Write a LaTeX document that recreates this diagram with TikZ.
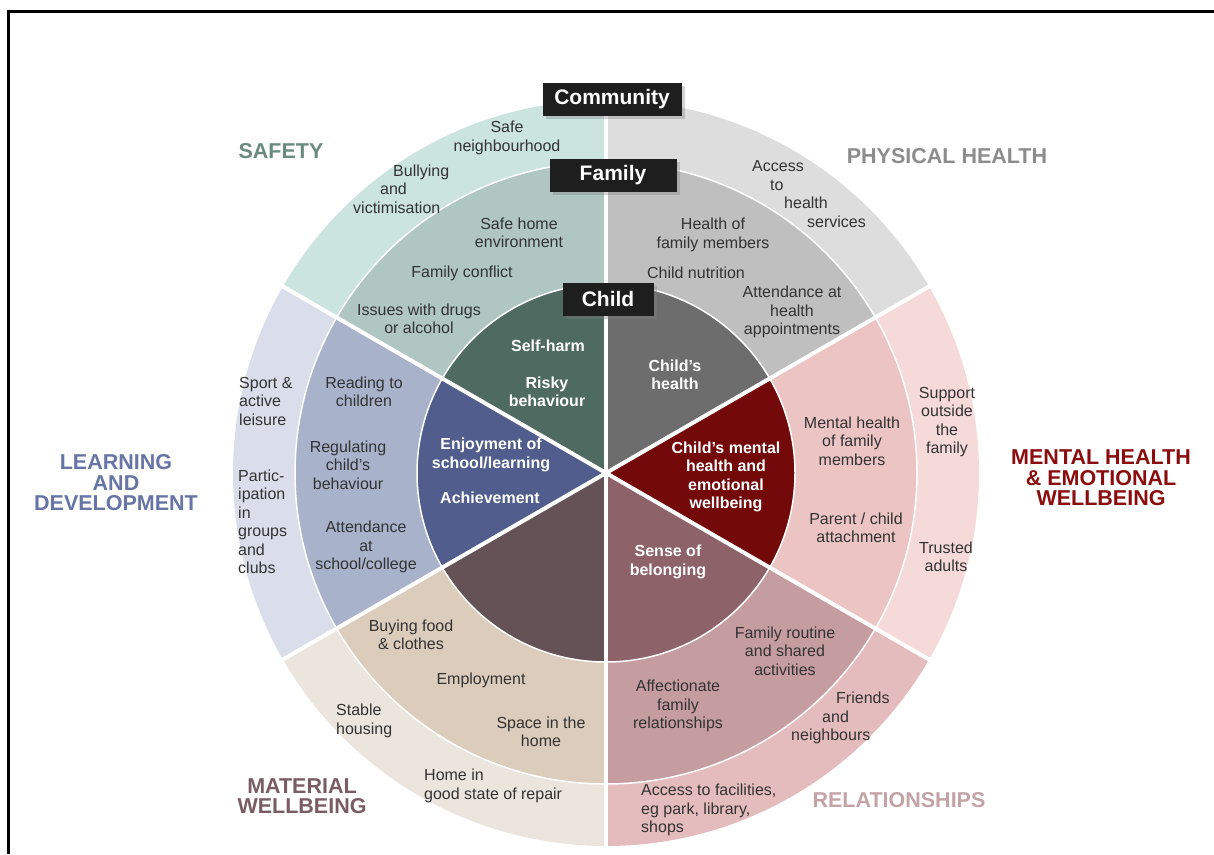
\documentclass[tikz,border=0pt]{standalone}
\usepackage{fontspec}
\setmainfont{Liberation Sans}
\usetikzlibrary{shadows}

\definecolor{txtgrey}{HTML}{333333}
\definecolor{lblblack}{HTML}{1E1E1E}
% community ring
\definecolor{safeO}{HTML}{CBE4DE}
\definecolor{physO}{HTML}{DDDDDD}
\definecolor{mentO}{HTML}{F6DADA}
\definecolor{relO}{HTML}{E5BCBD}
\definecolor{matO}{HTML}{ECE5DD}
\definecolor{learnO}{HTML}{D9DEEA}
% family ring
\definecolor{safeM}{HTML}{AFC6C1}
\definecolor{physM}{HTML}{BFBFBF}
\definecolor{mentM}{HTML}{ECC4C4}
\definecolor{relM}{HTML}{C59DA0}
\definecolor{matM}{HTML}{DBCCBC}
\definecolor{learnM}{HTML}{A8B2CA}
% child
\definecolor{safeI}{HTML}{4F6A61}
\definecolor{physI}{HTML}{6D6D6D}
\definecolor{mentI}{HTML}{730909}
\definecolor{relI}{HTML}{8D6268}
\definecolor{matI}{HTML}{645257}
\definecolor{learnI}{HTML}{505D8D}
% titles
\definecolor{safeT}{HTML}{6A8A80}
\definecolor{physT}{HTML}{8C8C8C}
\definecolor{mentT}{HTML}{8B0C0C}
\definecolor{relT}{HTML}{C4A3A6}
\definecolor{matT}{HTML}{7A5C64}
\definecolor{learnT}{HTML}{6674A6}

\begin{document}
\begin{tikzpicture}[x=1pt, y=1pt,
        txt/.style={font=\fontsize{16}{18.5}\selectfont, text=txtgrey, align=center, inner sep=0pt},
        childtxt/.style={font=\bfseries\fontsize{16}{18.5}\selectfont, text=white, align=center, inner sep=0pt},
        areatitle/.style={font=\bfseries\fontsize{21.5}{20.5}\selectfont, align=center, inner sep=0pt},
        ringlabel/.style={rectangle, fill=lblblack, text=white, font=\bfseries\fontsize{21}{21}\selectfont, minimum height=33pt, inner sep=0pt, drop shadow={opacity=0.35, shadow xshift=3pt, shadow yshift=-3pt}},
        spoke/.style={white, line width=4pt},
        ringline/.style={white, line width=1.5pt}
    ]
    \useasboundingbox (0,0) rectangle (1214,-854);
    \draw[line width=3pt] (8.5,-854) -- (8.5,-11.5) -- (1214,-11.5);

    % Wheel
    \begin{scope}[shift={(606,-473)}]
        \fill[safeO] (0,0) -- (90:373) arc (90:150:373) -- cycle;
        \fill[physO] (0,0) -- (30:373) arc (30:90:373) -- cycle;
        \fill[mentO] (0,0) -- (-30:373) arc (-30:30:373) -- cycle;
        \fill[relO] (0,0) -- (-90:373) arc (-90:-30:373) -- cycle;
        \fill[matO] (0,0) -- (-150:373) arc (-150:-90:373) -- cycle;
        \fill[learnO] (0,0) -- (150:373) arc (150:210:373) -- cycle;

        \fill[safeM] (0,0) -- (90:311) arc (90:150:311) -- cycle;
        \fill[physM] (0,0) -- (30:311) arc (30:90:311) -- cycle;
        \fill[mentM] (0,0) -- (-30:311) arc (-30:30:311) -- cycle;
        \fill[relM] (0,0) -- (-90:311) arc (-90:-30:311) -- cycle;
        \fill[matM] (0,0) -- (-150:311) arc (-150:-90:311) -- cycle;
        \fill[learnM] (0,0) -- (150:311) arc (150:210:311) -- cycle;

        \fill[safeI] (0,0) -- (90:189) arc (90:150:189) -- cycle;
        \fill[physI] (0,0) -- (30:189) arc (30:90:189) -- cycle;
        \fill[mentI] (0,0) -- (-30:189) arc (-30:30:189) -- cycle;
        \fill[relI] (0,0) -- (-90:189) arc (-90:-30:189) -- cycle;
        \fill[matI] (0,0) -- (-150:189) arc (-150:-90:189) -- cycle;
        \fill[learnI] (0,0) -- (150:189) arc (150:210:189) -- cycle;

        \draw[ringline] (0,0) circle (311);
        \draw[ringline] (0,0) circle (189);
        \draw[spoke] (0,0) -- (30:374);
        \draw[spoke] (0,0) -- (90:374);
        \draw[spoke] (0,0) -- (150:374);
        \draw[spoke] (0,0) -- (210:374);
        \draw[spoke] (0,0) -- (270:374);
        \draw[spoke] (0,0) -- (330:374);
    \end{scope}

    % Safety
    \node[txt] (safeNbh) at (507,-138) {Safe\\neighbourhood};
    \node[txt, align=left, anchor=west] (bullying) at (353,-189) {\hspace*{40pt}Bullying\\\hspace*{27pt}and\\victimisation};
    \node[txt] (safeHome) at (519,-233) {Safe home\\environment};
    \node[txt] (famConflict) at (462,-273) {Family conflict};
    \node[txt] (drugs) at (419,-319) {Issues with drugs\\or alcohol};
    \node[childtxt] (selfHarm) at (548,-346) {Self-harm};
    \node[childtxt] (risky) at (547,-392) {Risky\\behaviour};
    \node[areatitle, text=safeT] (safety) at (281,-151) {SAFETY};

    % Physical health
    \node[txt, align=left, anchor=west] (access) at (752,-194) {Access\\\hspace*{18pt}to\\\hspace*{32pt}health\\\hspace*{55pt}services};
    \node[txt] (famHealth) at (713,-235) {Health of\\family members};
    \node[txt] (nutrition) at (696,-273) {Child nutrition};
    \node[txt] (appts) at (792,-312) {Attendance at\\health\\appointments};
    \node[childtxt] (childHealth) at (675,-375) {Child's\\health};
    \node[areatitle, text=physT] (physical) at (947,-156) {PHYSICAL HEALTH};

    % Mental health
    \node[childtxt] (childMental) at (726,-477) {Child's mental\\health and\\emotional\\wellbeing};
    \node[txt] (famMental) at (852,-441) {Mental health\\of family\\members};
    \node[txt] (attach) at (856,-528) {Parent / child\\attachment};
    \node[txt] (support) at (947,-422) {Support\\outside\\the\\family};
    \node[txt] (trusted) at (946,-557) {Trusted\\adults};
    \node[areatitle, text=mentT] (mental) at (1101,-478) {MENTAL HEALTH\\\& EMOTIONAL\\WELLBEING};

    % Relationships
    \node[childtxt] (belonging) at (668,-562) {Sense of\\belonging};
    \node[txt] (routine) at (785,-651) {Family routine\\and shared\\activities};
    \node[txt] (affection) at (678,-706) {Affectionate\\family\\relationships};
    \node[txt, align=left, anchor=west] (friends) at (791,-718) {\hspace*{45pt}Friends\\\hspace*{31pt}and\\neighbours};
    \node[txt, align=left, anchor=west] (facilities) at (641,-810) {Access to facilities,\\eg park, library,\\shops};
    \node[areatitle, text=relT] (relations) at (899,-800) {RELATIONSHIPS};

    % Material wellbeing
    \node[txt] (buying) at (411,-635) {Buying food\\\& clothes};
    \node[txt] (employ) at (481,-680) {Employment};
    \node[txt] (space) at (541,-732) {Space in the\\home};
    \node[txt, align=left, anchor=west] (housing) at (336,-721) {Stable\\housing};
    \node[txt, align=left, anchor=west] (repair) at (424,-786) {Home in\\good state of repair};
    \node[areatitle, text=matT] (material) at (302,-796) {MATERIAL\\WELLBEING};

    % Learning and development
    \node[childtxt] (enjoy) at (491,-455) {Enjoyment of\\school/learning};
    \node[childtxt] (achieve) at (490,-498) {Achievement};
    \node[txt] (reading) at (364,-392) {Reading to\\children};
    \node[txt] (regulating) at (348,-465) {Regulating\\child's\\behaviour};
    \node[txt] (attend) at (366,-547) {Attendance\\at\\school/college};
    \node[txt, align=left, anchor=west] (sport) at (239,-401) {Sport \&\\active\\leisure};
    \node[txt, align=left, anchor=west] (particip) at (238,-522) {Partic-\\ipation\\in\\groups\\and\\clubs};
    \node[areatitle, text=learnT] (learning) at (116,-483) {LEARNING\\AND\\DEVELOPMENT};

    % Ring labels
    \node[ringlabel, minimum width=139pt] (community) at (612,-99) {Community};
    \node[ringlabel, minimum width=127pt] (family) at (613,-175) {Family};
    \node[ringlabel, minimum width=91pt] (child) at (608,-299) {Child};
\end{tikzpicture}
\end{document}
